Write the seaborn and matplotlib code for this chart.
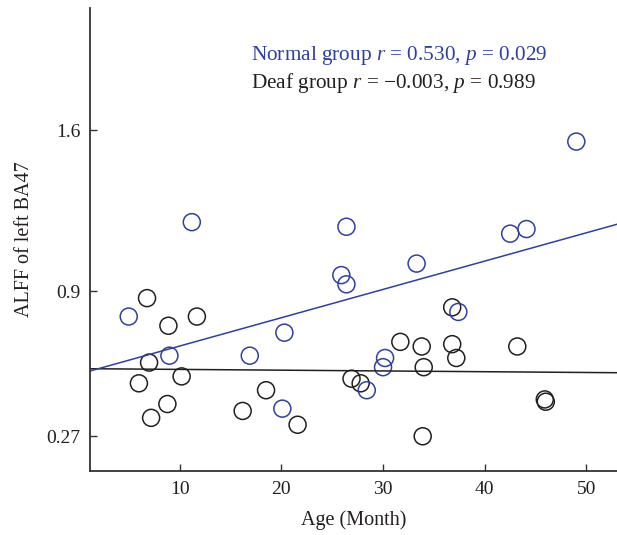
import numpy as np
import pandas as pd
import matplotlib
matplotlib.use('Agg')
import matplotlib.pyplot as plt
import seaborn as sns

# normal-hearing group (blue)
normal_age = [5.0, 9.0, 11.2, 16.9, 20.1, 20.3, 25.9, 26.4, 26.4, 28.4, 30.0, 30.2, 33.3, 37.4, 42.5, 44.1, 49.0]
normal_alff = [0.79, 0.62, 1.20, 0.62, 0.39, 0.72, 0.97, 0.93, 1.18, 0.47, 0.57, 0.61, 1.02, 0.81, 1.15, 1.17, 1.55]

# deaf group (black)
deaf_age = [6.0, 6.8, 7.0, 7.2, 8.8, 8.9, 10.2, 11.7, 16.2, 18.5, 21.6, 26.9, 27.8, 31.7,
            33.8, 33.9, 34.0, 36.8, 36.8, 37.2, 43.2, 45.9, 46.0]
deaf_alff = [0.50, 0.87, 0.59, 0.35, 0.41, 0.75, 0.53, 0.79, 0.38, 0.47, 0.32, 0.52, 0.50, 0.68,
             0.66, 0.27, 0.57, 0.83, 0.67, 0.61, 0.66, 0.43, 0.42]

blue = '#3040a0'
black = '#231f20'

normal = pd.DataFrame({'age': normal_age, 'alff': normal_alff})
deaf = pd.DataFrame({'age': deaf_age, 'alff': deaf_alff})

sns.set_style('ticks')
plt.rcParams['font.family'] = ['Liberation Serif', 'DejaVu Serif']
plt.rcParams['mathtext.fontset'] = 'custom'
plt.rcParams['mathtext.rm'] = 'Liberation Serif'
plt.rcParams['mathtext.it'] = 'Liberation Serif:italic'

fig = plt.figure(figsize=(6.17, 5.35), dpi=100)
ax = fig.add_axes([0.146, 0.12, 0.854, 0.865])
ax.set_xlim(1.2, 53)
ax.set_ylim(0.12, 2.13)

sns.regplot(data=deaf, x='age', y='alff', ax=ax, ci=None, truncate=False, color=black,
            scatter_kws={'facecolors': 'none', 's': 150, 'linewidths': 1.1, 'alpha': 1},
            line_kws={'linewidth': 1.1})
sns.regplot(data=normal, x='age', y='alff', ax=ax, ci=None, truncate=False, color=blue,
            scatter_kws={'facecolors': 'none', 's': 150, 'linewidths': 1.1, 'alpha': 1},
            line_kws={'linewidth': 1.1})

ax.set_xlim(1.2, 53)
ax.set_ylim(0.12, 2.13)
ax.set_xticks([10, 20, 30, 40, 50])
ax.set_yticks([0.27, 0.9, 1.6])
ax.set_yticklabels(['0.27', '0.9', '1.6'])
ax.tick_params(direction='in', length=5, width=1, labelsize=14, colors='#333333', labelcolor=black, pad=7)
sns.despine(ax=ax)
for s in ['left', 'bottom']:
    ax.spines[s].set_color('#333333')
    ax.spines[s].set_linewidth(1.3)

ax.set_xlabel('Age (Month)', fontsize=14.5, color=black, labelpad=9)
ax.set_ylabel('ALFF of left BA47', fontsize=14.5, color=black, labelpad=9)

ax.text(0.305, 0.898, 'Normal group $r$ = 0.530, $p$ = 0.029', transform=ax.transAxes,
        fontsize=15.3, color=blue, va='center')
ax.text(0.305, 0.838, 'Deaf group $r$ = \u22120.003, $p$ = 0.989', transform=ax.transAxes,
        fontsize=15.3, color=black, va='center')

plt.savefig('out.png', dpi=100)
